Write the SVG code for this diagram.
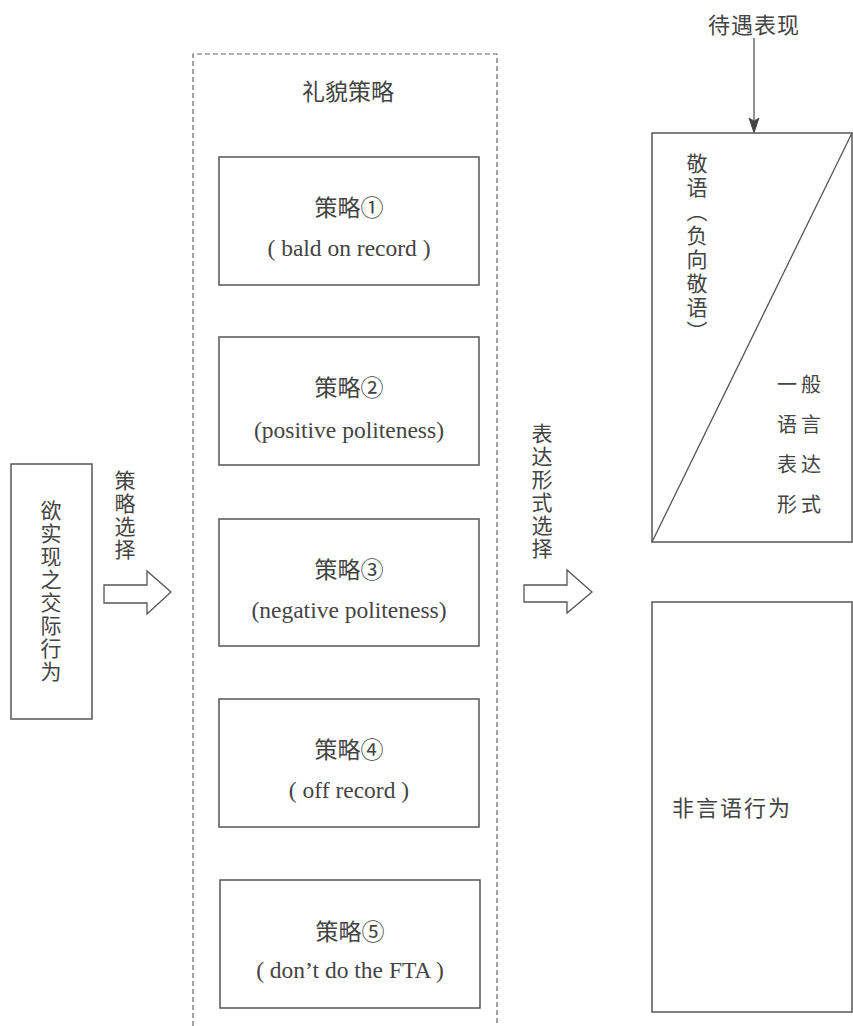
<svg xmlns="http://www.w3.org/2000/svg" width="853" height="1026" viewBox="0 0 853 1026">
<style>
.box{fill:none;stroke:#555;stroke-width:1.5}
.dash{fill:none;stroke:#666;stroke-width:1.2;stroke-dasharray:5 3}
.cn{font-family:"Noto Sans CJK SC",sans-serif;fill:#444}
.sr{font-family:"Liberation Serif","Noto Sans CJK SC",serif;fill:#444;text-anchor:middle}
.vt{font-family:"Noto Sans CJK SC",sans-serif;fill:#444;writing-mode:vertical-rl}
.harrow{fill:#fff;stroke:#555;stroke-width:1.3}
</style>
<rect width="853" height="1026" fill="#fff"/>

<g id="node-act">
<rect class="box" x="11" y="464" width="81" height="255"/>
<text class="vt" x="51" y="500" font-size="21" letter-spacing="2">欲实现之交际行为</text>
</g>

<g id="node-politeness">
<path class="dash" d="M193,1026 V54 H497 V1026"/>
<text class="sr" x="348" y="100" font-size="23">礼貌策略</text>
</g>

<g id="node-s1">
<rect class="box" x="219" y="157" width="260" height="128"/>
<text class="sr" x="349" y="216" font-size="23">策略①</text>
<text class="sr" x="349" y="256" font-size="23.5">( bald on record )</text>
</g>
<g id="node-s2">
<rect class="box" x="219" y="337" width="260" height="128"/>
<text class="sr" x="349" y="396" font-size="23">策略②</text>
<text class="sr" x="349" y="438" font-size="23.5">(positive politeness)</text>
</g>
<g id="node-s3">
<rect class="box" x="219" y="519" width="260" height="127"/>
<text class="sr" x="349" y="578" font-size="23">策略③</text>
<text class="sr" x="349" y="618" font-size="23.5">(negative politeness)</text>
</g>
<g id="node-s4">
<rect class="box" x="219" y="699" width="260" height="128"/>
<text class="sr" x="349" y="758" font-size="23">策略④</text>
<text class="sr" x="349" y="798" font-size="23.5">( off record )</text>
</g>
<g id="node-s5">
<rect class="box" x="220" y="880" width="260" height="128"/>
<text class="sr" x="350" y="940" font-size="23">策略⑤</text>
<text class="sr" x="350" y="978" font-size="23.5">( don’t do the FTA )</text>
</g>

<g id="node-keigo">
<rect class="box" x="652" y="133" width="200" height="409"/>
<line x1="652" y1="542" x2="852" y2="133" stroke="#555" stroke-width="1.3"/>
<text class="vt" x="697" y="153" font-size="21" letter-spacing="3">敬语（负向敬语）</text>
<g class="cn" font-size="20" letter-spacing="4">
<text x="777" y="392">一般</text>
<text x="777" y="432">语言</text>
<text x="777" y="472">表达</text>
<text x="777" y="512">形式</text>
</g>
</g>

<g id="node-nonverbal">
<rect class="box" x="652" y="602" width="200" height="410"/>
<text class="cn" x="672" y="816" font-size="22" letter-spacing="2">非言语行为</text>
</g>

<g id="label-taigu">
<text class="cn" x="754" y="33" font-size="22" text-anchor="middle" letter-spacing="1">待遇表现</text>
</g>

<g id="connectors">
<line x1="754" y1="38" x2="754" y2="122" stroke="#555" stroke-width="1.3"/>
<path d="M749,118 L754,133 L759,118 L754,121 Z" fill="#444" stroke="#444" stroke-width="0.8"/>
<path class="harrow" d="M104,585 H147 V571 L171,592 L147,614 V603 H104 Z"/>
<text class="vt" x="125" y="470" font-size="21" letter-spacing="2">策略选择</text>
<path class="harrow" d="M524,585 H567 V570 L592,592 L567,613 V602 H524 Z"/>
<text class="vt" x="542" y="423" font-size="21" letter-spacing="2">表达形式选择</text>
</g>
</svg>
